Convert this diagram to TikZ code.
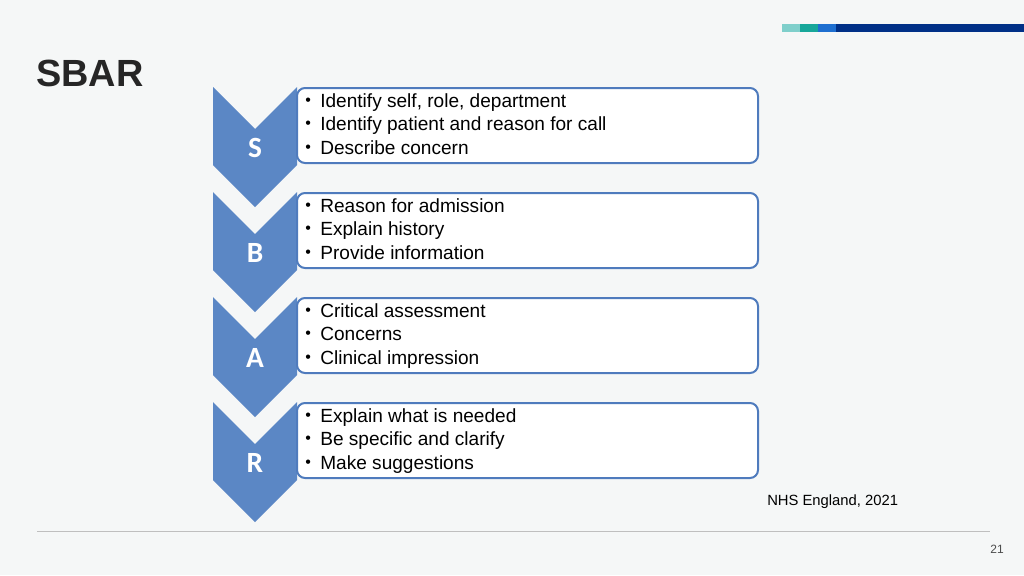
\documentclass[tikz,border=0pt]{standalone}
\usepackage{fontspec}
\setmainfont{Liberation Sans}
\newfontfamily\carl{Carlito}
\newcommand{\bul}[1]{\makebox[11.3pt][l]{\raisebox{1.5pt}{\fontsize{12}{12}\selectfont\textbullet}}#1}
\begin{document}
\begin{tikzpicture}[x=0.75pt,y=-0.75pt,
 chev/.style={fill=chevblue,draw=none},
 box/.style={draw=boxblue,line width=1.5pt,fill=white,rounded corners=6pt},
 letter/.style={text=white,font=\carl\bfseries\fontsize{22}{26}\selectfont},
 items/.style={anchor=north west,align=left,font=\fontsize{14.3}{17.6}\selectfont,inner sep=0pt}]
\definecolor{bg}{HTML}{F5F7F7}
\definecolor{chevblue}{HTML}{5B87C5}
\definecolor{boxblue}{HTML}{4F7BBD}
\definecolor{c1}{HTML}{7FCFCB}
\definecolor{c2}{HTML}{17A79A}
\definecolor{c3}{HTML}{1E6FD0}
\definecolor{c4}{HTML}{003087}
\fill[bg] (0,0) rectangle (1024,575);
\useasboundingbox (0,0) rectangle (1024,575);
\fill[c1] (782,24) rectangle (800,32);
\fill[c2] (800,24) rectangle (818,32);
\fill[c3] (818,24) rectangle (836,32);
\fill[c4] (836,24) rectangle (1024,32);
\node[anchor=base west,inner sep=0pt,font=\bfseries\fontsize{28.4}{32}\selectfont,text=black!85] (title) at (36,86) {SBAR};
\foreach \y/\L/\a/\b/\c [count=\i] in {87/S/{Identify self, role, department}/{Identify patient and reason for call}/{Describe concern},
 192/B/{Reason for admission}/{Explain history}/{Provide information},
 297/A/{Critical assessment}/{Concerns}/{Clinical impression},
 402/R/{Explain what is needed}/{Be specific and clarify}/{Make suggestions}}{
 \fill[chev] (213,\y) -- (255,\y+42) -- (297,\y) -- (297,\y+78) -- (255,\y+120) -- (213,\y+78) -- cycle;
 \draw[box] (297,\y+1) rectangle (758,\y+76);
 \node[letter] (L\i) at (255,\y+61) {\L};
 \node[items] (T\i) at (305,\y+6) {\bul{\a}\\ \bul{\b}\\ \bul{\c}};
}
\node[anchor=base west,inner sep=0pt,font=\fontsize{11.1}{13}\selectfont] (src) at (767,505) {NHS England, 2021};
\draw[black!25,line width=0.75pt] (37,531) -- (990,531);
\node[anchor=base east,inner sep=0pt,font=\fontsize{9}{11}\selectfont,text=black!70] (pg) at (1004,553) {21};
\end{tikzpicture}
\end{document}
